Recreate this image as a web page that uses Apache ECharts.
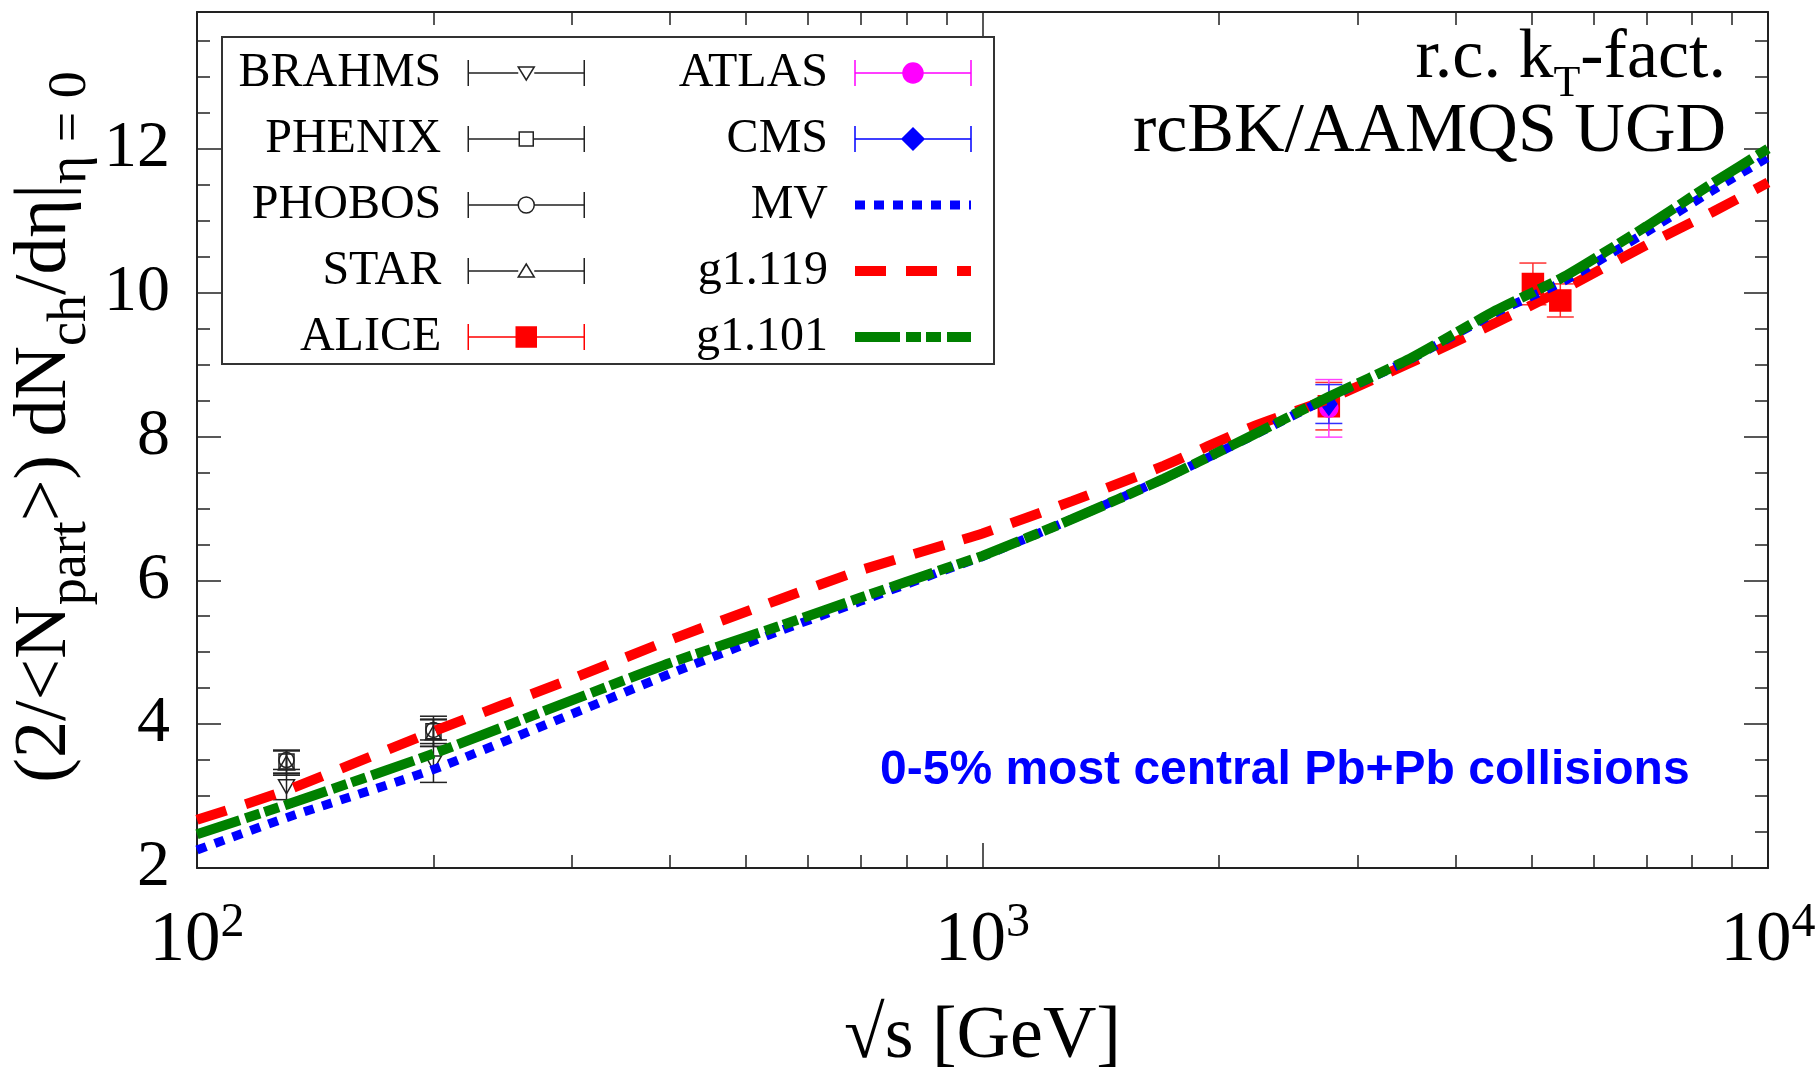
<!DOCTYPE html>
<html>
<head>
<meta charset="utf-8">
<script src="https://cdn.jsdelivr.net/npm/echarts@6/dist/echarts.min.js"></script>
<style>
  html, body { margin: 0; padding: 0; background: #fff; }
  #chart { width: 1816px; height: 1071px; }
</style>
</head>
<body>
<div id="chart"></div>
<script>
const SERIF = 'Liberation Serif';
const SANS = 'Liberation Sans';

// Collision energies (GeV) at which the k_T-factorization curves are tabulated
const energies = [100, 130, 200, 300, 400, 550, 700, 900, 1000, 1300, 1700, 2200, 2760, 3500, 4500, 5500, 7000, 8500, 10000];
const mvValues    = [2.25, 2.70, 3.37, 4.14, 4.70, 5.29, 5.71, 6.15, 6.33, 6.85, 7.41, 8.00, 8.54, 9.07, 9.72, 10.16, 10.84, 11.42, 11.88];
const g1119Values = [2.67, 3.08, 3.90, 4.63, 5.17, 5.73, 6.14, 6.50, 6.65, 7.10, 7.59, 8.13, 8.52, 9.02, 9.58, 10.05, 10.66, 11.12, 11.53];
const g1101Values = [2.47, 2.88, 3.59, 4.33, 4.85, 5.36, 5.76, 6.17, 6.34, 6.85, 7.41, 8.01, 8.55, 9.08, 9.75, 10.22, 10.92, 11.52, 12.00];

// Measurements: [sqrt(s) in GeV, value, uncertainty]
const brahms = [[130, 3.13, 0.18], [200, 3.46, 0.27]];
const phenix = [[130, 3.48, 0.16], [200, 3.90, 0.21]];
const phobos = [[130, 3.50, 0.13], [200, 3.92, 0.14]];
const star   = [[130, 3.46, 0.17], [200, 3.88, 0.19]];
const alice  = [[2760, 8.42, 0.33], [5020, 10.12, 0.29], [5440, 9.89, 0.23]];
const atlas  = [[2760, 8.39, 0.40]];
const cms    = [[2760, 8.45, 0.27]];

// Tick positions
const xMajorTicks = [100, 1000, 10000];
const xMinorTicks = [200, 300, 400, 500, 600, 700, 800, 900, 2000, 3000, 4000, 5000, 6000, 7000, 8000, 9000];
const yMajorTicks = [2, 4, 6, 8, 10, 12];
const yMinorTicks = [2.5, 3, 3.5, 4.5, 5, 5.5, 6.5, 7, 7.5, 8.5, 9, 9.5, 10.5, 11, 11.5, 12.5, 13, 13.5];

const X_MIN = 100, X_MAX = 10000, Y_MIN = 2, Y_MAX = 13.9;
const AXIS_COLOR = '#222';

function pairs(xs, ys) { return xs.map((x, i) => [x, ys[i]]); }

function xAxisDef(position, ticks, tickLen, showLine, showLabels) {
  const ax = {
    type: 'log', logBase: 10, min: X_MIN, max: X_MAX, position: position,
    axisLine: { show: showLine, lineStyle: { color: AXIS_COLOR, width: 2 } },
    axisTick: { show: true, inside: true, length: tickLen, customValues: ticks,
                lineStyle: { color: AXIS_COLOR, width: 1.5 } },
    axisLabel: { show: false },
    splitLine: { show: false }, minorTick: { show: false }, minorSplitLine: { show: false }
  };
  if (showLabels) {
    ax.axisLabel = {
      show: true, customValues: xMajorTicks, margin: 31,
      formatter: v => '{b|10}{e|' + Math.round(Math.log10(v)) + '}',
      rich: {
        b: { fontFamily: SERIF, fontSize: 71, color: '#000', lineHeight: 84 },
        e: { fontFamily: SERIF, fontSize: 48, color: '#000', lineHeight: 84, padding: [0, 0, 36, 0] }
      }
    };
    ax.name = '√s [GeV]';
    ax.nameLocation = 'middle';
    ax.nameGap = 128;
    ax.nameMoveOverlap = false;
    ax.nameTextStyle = { fontFamily: SERIF, fontSize: 74, color: '#000', lineHeight: 84 };
  }
  return ax;
}

function yAxisDef(position, ticks, tickLen, showLine, showLabels) {
  const ax = {
    type: 'value', min: Y_MIN, max: Y_MAX, position: position,
    axisLine: { show: showLine, lineStyle: { color: AXIS_COLOR, width: 2 } },
    axisTick: { show: true, inside: true, length: tickLen, customValues: ticks,
                lineStyle: { color: AXIS_COLOR, width: 1.5 } },
    axisLabel: { show: false },
    splitLine: { show: false }, minorTick: { show: false }
  };
  if (showLabels) {
    ax.axisLabel = { show: true, customValues: yMajorTicks, margin: 27,
                     fontFamily: SERIF, fontSize: 66, color: '#000' };
    ax.name = '{m|(2/<N}{s|part}{m|>) dN}{s|ch}{m|/dη|}{s|η = 0}';
    ax.nameLocation = 'middle';
    ax.nameGap = 101;
    ax.nameMoveOverlap = false;
    ax.nameTextStyle = {
      padding: [0, 0, 0, 26],
      rich: {
        m: { fontFamily: SERIF, fontSize: 74, color: '#000', lineHeight: 100 },
        s: { fontFamily: SERIF, fontSize: 54, color: '#000', lineHeight: 100, padding: [50, 0, 0, 0] }
      }
    };
  }
  return ax;
}

// Vertical uncertainty bars with caps
function errorBars(name, data, color) {
  return {
    type: 'custom', name: name, data: data, z: 2,
    encode: { x: 0, y: 1 },
    renderItem: function (params, api) {
      const x = api.value(0), y = api.value(1), e = api.value(2);
      const hi = api.coord([x, y + e]);
      const lo = api.coord([x, y - e]);
      const hw = 13.5;
      const st = { stroke: color, lineWidth: 1.5 };
      return {
        type: 'group',
        children: [
          { type: 'line', shape: { x1: hi[0], y1: hi[1], x2: lo[0], y2: lo[1] }, style: st },
          { type: 'line', shape: { x1: hi[0] - hw, y1: hi[1], x2: hi[0] + hw, y2: hi[1] }, style: st },
          { type: 'line', shape: { x1: lo[0] - hw, y1: lo[1], x2: lo[0] + hw, y2: lo[1] }, style: st }
        ]
      };
    }
  };
}

function markers(name, data, symbol, size, fill, stroke, rotate) {
  return {
    type: 'scatter', name: name, data: data, z: 2,
    encode: { x: 0, y: 1 },
    symbol: symbol, symbolSize: size, symbolRotate: rotate || 0,
    itemStyle: { color: fill, borderColor: stroke, borderWidth: 1.5, opacity: 1 }
  };
}

function curve(name, values, color, width, dash) {
  return {
    type: 'line', name: name, data: pairs(energies, values),
    symbol: 'none', showSymbol: false, smooth: 0.2, z: 3,
    itemStyle: { color: color },
    lineStyle: { color: color, width: width, type: dash, cap: 'butt' }
  };
}

// Legend icons: error bar with caps and a centred marker, in a 116 x 26 box
const CAPS = 'M0,0L0,26M116,0L116,26';
const icons = {
  BRAHMS: 'path://' + CAPS + 'M0,13L50,13M66,13L116,13M50,7L66,7L58,20Z',
  PHENIX: 'path://' + CAPS + 'M0,13L51,13M65,13L116,13M51,6L65,6L65,20L51,20Z',
  PHOBOS: 'path://' + CAPS + 'M0,13L50,13M66,13L116,13M50,13A8,8 0 1 1 66,13A8,8 0 1 1 50,13Z',
  STAR:   'path://' + CAPS + 'M0,13L50,13M66,13L116,13M50,19L66,19L58,6Z',
  ALICE:  'path://' + CAPS + 'M0,13L116,13M48,3L68,3L68,23L48,23Z',
  ATLAS:  'path://' + CAPS + 'M0,13L116,13M48,13A10,10 0 1 1 68,13A10,10 0 1 1 48,13Z',
  CMS:    'path://' + CAPS + 'M0,13L116,13M58,2L69,13L58,24L47,13Z'
};

function barItem(name, fill, stroke) {
  return { name: name, icon: icons[name],
           itemStyle: { color: fill, borderColor: stroke, borderWidth: 1.5, opacity: 1 } };
}
function lineItem(name, color, width, dash) {
  return { name: name,
           itemStyle: { color: 'rgba(0,0,0,0)', borderWidth: 0 },
           lineStyle: { color: color, width: width, type: dash, cap: 'butt' } };
}

const legendBase = {
  orient: 'vertical', align: 'right', top: 40, padding: 0,
  itemWidth: 116, itemHeight: 26, itemGap: 0, selectedMode: false,
  textStyle: { fontFamily: SERIF, fontSize: 48, color: '#000', lineHeight: 66, padding: [0, 22, 0, 0] }
};

const MV_DASH = [10, 9];
const G1119_DASH = [31, 20];
const G1101_DASH = [45, 6, 15, 5, 15, 6];

const option = {
  animation: false,
  backgroundColor: '#fff',
  grid: { left: 197, right: 48, top: 12, bottom: 203, containLabel: false, outerBoundsMode: 'none' },
  xAxis: [
    xAxisDef('bottom', xMajorTicks, 25, true, true),
    xAxisDef('bottom', xMinorTicks, 13, false, false),
    xAxisDef('top', xMajorTicks, 25, true, false),
    xAxisDef('top', xMinorTicks, 13, false, false)
  ],
  yAxis: [
    yAxisDef('left', yMajorTicks, 24, true, true),
    yAxisDef('left', yMinorTicks, 13, false, false),
    yAxisDef('right', yMajorTicks, 24, true, false),
    yAxisDef('right', yMinorTicks, 13, false, false)
  ],
  title: [
    { text: '{m|r.c. k}{s|T}{m|-fact.}', right: 90, top: 14, padding: 0,
      textStyle: { fontWeight: 'normal', rich: {
        m: { fontFamily: SERIF, fontSize: 70, fontWeight: 'normal', color: '#000', lineHeight: 90 },
        s: { fontFamily: SERIF, fontSize: 44, fontWeight: 'normal', color: '#000', lineHeight: 90, padding: [50, 0, 0, 0] }
      } } },
    { text: 'rcBK/AAMQS UGD', right: 90, top: 88, padding: 0,
      textStyle: { fontFamily: SERIF, fontSize: 70, fontWeight: 'normal', color: '#000', lineHeight: 90 } },
    { text: '0-5% most central Pb+Pb collisions', left: 880, top: 743, padding: 0,
      textStyle: { fontFamily: SANS, fontSize: 48, fontWeight: 'bold', color: '#0000ff', lineHeight: 56 } }
  ],
  legend: [
    Object.assign({}, legendBase, { right: 1231, data: [
      barItem('BRAHMS', '#fff', AXIS_COLOR),
      barItem('PHENIX', '#fff', AXIS_COLOR),
      barItem('PHOBOS', '#fff', AXIS_COLOR),
      barItem('STAR', '#fff', AXIS_COLOR),
      barItem('ALICE', '#ff0000', '#ff0000')
    ] }),
    Object.assign({}, legendBase, { right: 840, data: [
      barItem('ATLAS', '#ff00ff', '#ff00ff'),
      barItem('CMS', '#0000ff', '#0000ff'),
      lineItem('MV', '#0000ff', 9, MV_DASH),
      lineItem('g1.119', '#ff0000', 10, G1119_DASH),
      lineItem('g1.101', '#008000', 10, G1101_DASH)
    ] })
  ],
  graphic: [
    { type: 'rect', shape: { x: 222, y: 37, width: 772, height: 327 },
      style: { fill: 'none', stroke: '#333', lineWidth: 2 }, z: 10 }
  ],
  series: [
    markers('BRAHMS', brahms, 'triangle', [16, 14], 'rgba(0,0,0,0)', AXIS_COLOR, 180),
    markers('PHENIX', phenix, 'rect', 15, 'rgba(0,0,0,0)', AXIS_COLOR),
    markers('PHOBOS', phobos, 'circle', 15, 'rgba(0,0,0,0)', AXIS_COLOR),
    markers('STAR', star, 'triangle', [16, 14], 'rgba(0,0,0,0)', AXIS_COLOR),
    markers('ALICE', alice, 'rect', 21, '#ff0000', '#ff0000'),
    markers('ATLAS', atlas, 'circle', 18, '#ff00ff', '#ff00ff'),
    markers('CMS', cms, 'diamond', [16, 22], '#0000ff', '#0000ff'),
    errorBars('BRAHMS', brahms, AXIS_COLOR),
    errorBars('PHENIX', phenix, AXIS_COLOR),
    errorBars('PHOBOS', phobos, AXIS_COLOR),
    errorBars('STAR', star, AXIS_COLOR),
    errorBars('ALICE', alice, '#ff3030'),
    errorBars('ATLAS', atlas, '#ff40ff'),
    errorBars('CMS', cms, '#3030ff'),
    curve('g1.119', g1119Values, '#ff0000', 10, G1119_DASH),
    curve('MV', mvValues, '#0000ff', 9, MV_DASH),
    curve('g1.101', g1101Values, '#008000', 10, G1101_DASH)
  ]
};

const chart = echarts.init(document.getElementById('chart'), null, { renderer: 'canvas' });
chart.setOption(option);
</script>
</body>
</html>
